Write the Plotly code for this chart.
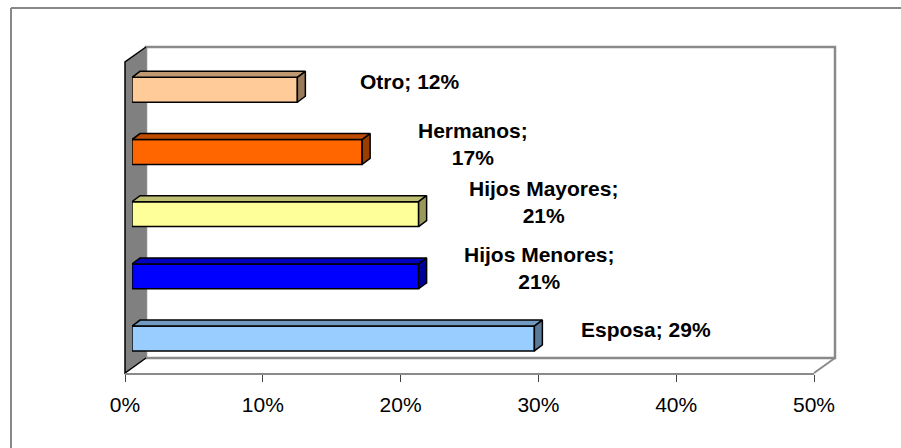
import plotly.graph_objects as go

# ---------------- data ----------------
categories = ["Esposa", "Hijos Menores", "Hijos Mayores", "Hermanos", "Otro"]
values = [29.2, 20.8, 20.8, 16.7, 12.0]
pct_labels = ["29%", "21%", "21%", "17%", "12%"]
x_tick_vals = [0, 10, 20, 30, 40, 50]
x_tick_text = ["0%", "10%", "20%", "30%", "40%", "50%"]

# ---------------- style ----------------
front_colors = ["#99CCFF", "#0000FF", "#FFFF99", "#FF6600", "#FFCC99"]
label_break = [False, True, True, True, False]
label_dx = [112, 121, 125, 111, 113]     # px offset of label centre from bar end
label_dy = [9, 8, 12, 8, 8]              # px upward offset of label centre

W, H = 901, 448
FONT = "Liberation Sans, Arial, sans-serif"


def px(x):
    return x / W


def py(y):
    return 1 - y / H


def shade(hex_color, f):
    h = hex_color.lstrip("#")
    r, g, b = (int(h[i:i + 2], 16) for i in (0, 2, 4))
    return "#%02X%02X%02X" % (int(r * f), int(g * f), int(b * f))


# geometry of the 3D box (pixels)
X0, X50 = 125, 814          # front floor edge: 0% and 50%
FLOOR_Y = 373
DEPTH = (21, -15)           # back-wall offset
BAR_OFF = 7                 # bar front faces sit slightly back in depth
BAR_DEPTH = (8, -6)
px_per_unit = (X50 - X0) / 50.0

# bar subplot: category centres
y_top_center, y_bot_center = 89.8, 338.5
unit_y = (y_bot_center - y_top_center) / 4.0
bar_width = 0.40

fig = go.Figure()

fig.add_trace(go.Bar(
    x=values, y=list(range(len(categories))), orientation="h",
    width=bar_width, base=0,
    marker=dict(color=front_colors, line=dict(color="black", width=1.5)),
    xaxis="x2", yaxis="y2", showlegend=False, hoverinfo="skip",
))

ddx = BAR_DEPTH[0] / px_per_unit
ddy = -BAR_DEPTH[1] / unit_y
for i, v in enumerate(values):
    yt = i + bar_width / 2
    yb = i - bar_width / 2
    fig.add_trace(go.Scatter(
        x=[0, v, v + ddx, ddx, 0], y=[yt, yt, yt + ddy, yt + ddy, yt],
        fill="toself", fillcolor=shade(front_colors[i], 0.75), mode="lines",
        line=dict(color="black", width=1.5), xaxis="x2", yaxis="y2",
        showlegend=False, hoverinfo="skip"))
    fig.add_trace(go.Scatter(
        x=[v, v + ddx, v + ddx, v, v], y=[yb, yb + ddy, yt + ddy, yt, yb],
        fill="toself", fillcolor=shade(front_colors[i], 0.6), mode="lines",
        line=dict(color="black", width=1.5), xaxis="x2", yaxis="y2",
        showlegend=False, hoverinfo="skip"))

fig.add_trace(go.Scatter(x=[0, 50], y=[0, 0], mode="markers",
                         marker=dict(opacity=0), showlegend=False, hoverinfo="skip"))

annotations = []
for i, (c, p) in enumerate(zip(categories, pct_labels)):
    txt = f"{c};<br>{p}" if label_break[i] else f"{c}; {p}"
    annotations.append(dict(
        x=values[i], y=i, xref="x2", yref="y2", text=txt, showarrow=False,
        xanchor="center", yanchor="middle", xshift=label_dx[i], yshift=label_dy[i],
        font=dict(family=FONT, size=21, color="black", weight="bold"), align="center"))

bx0, by0 = X0 + DEPTH[0], 47
bx1, by1 = X50 + DEPTH[0], FLOOR_Y + DEPTH[1]
gray = "#8A8A8A"
shapes = [
    dict(type="line", xref="paper", yref="paper", x0=px(11), y0=py(8), x1=1, y1=py(8),
         line=dict(color="#888888", width=2)),
    dict(type="line", xref="paper", yref="paper", x0=px(11), y0=py(8), x1=px(11), y1=0,
         line=dict(color="#888888", width=2)),
    dict(type="rect", xref="paper", yref="paper", x0=px(bx0), y0=py(by0), x1=px(bx1), y1=py(by1),
         fillcolor="white", line=dict(color=gray, width=2.5), layer="below"),
    dict(type="path", xref="paper", yref="paper",
         path=f"M {px(X0)} {py(by0 - DEPTH[1])} L {px(bx0)} {py(by0)} L {px(bx0)} {py(by1)} "
              f"L {px(X0)} {py(FLOOR_Y)} Z",
         fillcolor="#808080", line=dict(width=0), layer="below"),
    dict(type="path", xref="paper", yref="paper",
         path=f"M {px(bx0)} {py(by0)} L {px(X0)} {py(by0 - DEPTH[1])} L {px(X0)} {py(FLOOR_Y)} "
              f"L {px(bx0)} {py(by1)}",
         line=dict(color="black", width=1.5), layer="below"),
    dict(type="line", xref="paper", yref="paper", x0=px(X50), y0=py(FLOOR_Y), x1=px(bx1), y1=py(by1),
         line=dict(color=gray, width=2), layer="below"),
]

fig.update_layout(
    width=W, height=H, autosize=False,
    margin=dict(l=0, r=0, t=0, b=0, pad=0, autoexpand=False),
    paper_bgcolor="white", plot_bgcolor="rgba(0,0,0,0)",
    font=dict(family=FONT, color="black"),
    xaxis=dict(domain=[px(X0), px(X50)], range=[0, 50], anchor="y",
               tickvals=x_tick_vals, ticktext=x_tick_text,
               ticks="outside", ticklen=7, tickcolor="#404040", tickwidth=1,
               showline=True, linecolor=gray, linewidth=2,
               showgrid=False, zeroline=False, fixedrange=True, automargin=False,
               tickfont=dict(family=FONT, size=21, color="black"),
               ticklabelstandoff=5),
    yaxis=dict(domain=[py(FLOOR_Y), py(by0)], range=[0, 1], anchor="x",
               visible=False, fixedrange=True, automargin=False),
    xaxis2=dict(domain=[px(X0 + BAR_OFF), px(X0 + BAR_OFF + 50 * px_per_unit)], range=[0, 50],
                anchor="y2", visible=False, fixedrange=True, automargin=False),
    yaxis2=dict(domain=[py(y_bot_center + unit_y / 2), py(y_top_center - unit_y / 2)],
                range=[-0.5, 4.5], anchor="x2", visible=False, fixedrange=True, automargin=False),
    shapes=shapes,
    annotations=annotations,
    showlegend=False,
)

fig.write_html("out.html", config={"responsive": False, "displayModeBar": False},
               post_script="document.body.style.margin='0';document.body.style.overflow='hidden';")
